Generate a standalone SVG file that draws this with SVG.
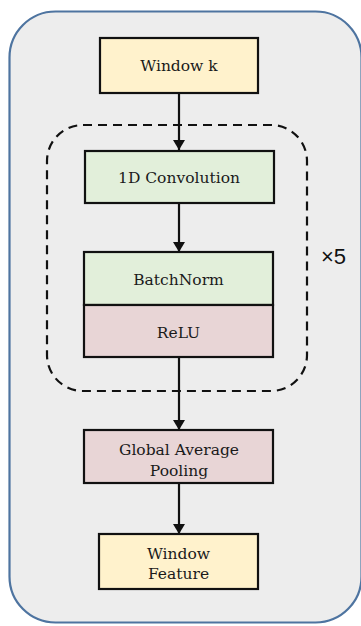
<svg xmlns="http://www.w3.org/2000/svg" width="361" height="626" viewBox="0 0 361 626">
<defs>
<style>
.box{stroke:#111;stroke-width:2.2}
.yel{fill:#FFF2CC}
.grn{fill:#E2EFDA}
.red{fill:#E8D5D6}
.t{font-family:"DejaVu Serif","Liberation Serif",serif;font-size:15.5px;fill:#1a1a1a;text-anchor:middle}
.con{stroke:#111;stroke-width:2.2;fill:none}
</style>
<marker id="ah" viewBox="0 0 10 12" refX="10" refY="6" markerWidth="10" markerHeight="12" markerUnits="userSpaceOnUse" orient="auto">
<path d="M0,0 L10,6 L0,12 z" fill="#111"/>
</marker>
</defs>
<rect x="0" y="0" width="361" height="626" fill="#ffffff"/>
<g id="container">
<rect x="9.5" y="11.5" width="352" height="611" rx="46" ry="46" fill="#EDEDED" stroke="#4E74A0" stroke-width="2.2"/>
</g>
<g id="repeat-block">
<rect x="47" y="125" width="260" height="266" rx="36" ry="36" fill="none" stroke="#111" stroke-width="2.2" stroke-dasharray="9,6"/>
<text x="333.5" y="264" style="font-family:'Liberation Sans',Arial,sans-serif;font-size:22px;fill:#111;text-anchor:middle">×5</text>
</g>
<g id="connectors">
<line class="con" x1="179" y1="93" x2="179" y2="150" marker-end="url(#ah)"/>
<line class="con" x1="179" y1="203" x2="179" y2="252" marker-end="url(#ah)"/>
<line class="con" x1="179" y1="357" x2="179" y2="430" marker-end="url(#ah)"/>
<line class="con" x1="179" y1="483" x2="179" y2="534" marker-end="url(#ah)"/>
</g>
<g id="window-k">
<rect class="box yel" x="100" y="38" width="158" height="55"/>
<text class="t" x="179" y="71">Window k</text>
</g>
<g id="conv1d">
<rect class="box grn" x="85" y="151" width="189" height="52"/>
<text class="t" x="179" y="183">1D Convolution</text>
</g>
<g id="batchnorm">
<rect class="box grn" x="84" y="252" width="189" height="53"/>
<text class="t" x="178.5" y="285">BatchNorm</text>
</g>
<g id="relu">
<rect class="box red" x="84" y="305" width="189" height="52"/>
<text class="t" x="178.5" y="338">ReLU</text>
</g>
<g id="gap">
<rect class="box red" x="84" y="430" width="189" height="53"/>
<text class="t" x="179" y="455">Global Average</text>
<text class="t" x="179" y="476">Pooling</text>
</g>
<g id="window-feature">
<rect class="box yel" x="99" y="534" width="159" height="55"/>
<text class="t" x="178.5" y="559">Window</text>
<text class="t" x="178.5" y="579">Feature</text>
</g>
</svg>
